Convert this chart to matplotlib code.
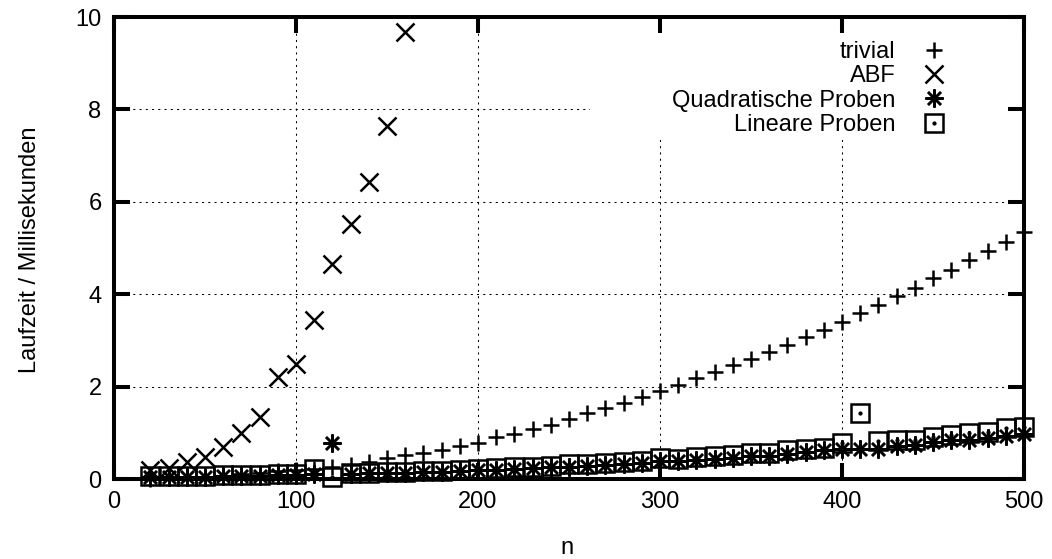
import matplotlib
matplotlib.use("Agg")
import matplotlib.pyplot as plt
from matplotlib.patches import Rectangle
from matplotlib.legend_handler import HandlerTuple

plt.rcParams['font.family'] = ['Liberation Sans', 'DejaVu Sans']

# ---- data ----
n_values = list(range(20, 501, 10))

trivial = [0.01, 0.02, 0.03, 0.05, 0.07, 0.10, 0.13, 0.17, 0.20, 0.22,
           0.25, 0.30, 0.37, 0.45, 0.52, 0.56, 0.63, 0.71, 0.79, 0.90,
           0.97, 1.08, 1.17, 1.30, 1.42, 1.54, 1.65, 1.77, 1.90, 2.03,
           2.18, 2.32, 2.47, 2.60, 2.75, 2.90, 3.07, 3.22, 3.40, 3.59,
           3.77, 3.96, 4.13, 4.35, 4.52, 4.74, 4.94, 5.13, 5.35]

abf_n = [20, 30, 40, 50, 60, 70, 80, 90, 100, 110, 120, 130, 140, 150, 160]
abf = [0.20, 0.23, 0.36, 0.48, 0.70, 1.00, 1.35, 2.20, 2.50, 3.45,
       4.65, 5.53, 6.42, 7.63, 9.67]

quadratisch = [0.04, 0.04, 0.05, 0.05, 0.06, 0.06, 0.07, 0.08, 0.09, 0.10,
               0.77, 0.11, 0.12, 0.13, 0.14, 0.15, 0.16, 0.17, 0.19, 0.20,
               0.22, 0.23, 0.25, 0.27, 0.28, 0.30, 0.32, 0.34, 0.38, 0.38,
               0.41, 0.43, 0.45, 0.50, 0.50, 0.54, 0.58, 0.62, 0.65, 0.66,
               0.66, 0.71, 0.73, 0.80, 0.84, 0.85, 0.89, 0.92, 0.97]

linear = [0.06, 0.06, 0.07, 0.07, 0.08, 0.08, 0.09, 0.10, 0.11, 0.22,
          0.04, 0.13, 0.14, 0.15, 0.16, 0.17, 0.18, 0.20, 0.22, 0.23,
          0.25, 0.27, 0.29, 0.32, 0.33, 0.35, 0.37, 0.40, 0.45, 0.44,
          0.48, 0.50, 0.51, 0.56, 0.57, 0.63, 0.65, 0.68, 0.77, 1.43,
          0.82, 0.84, 0.85, 0.91, 0.95, 0.99, 1.02, 1.10, 1.13]

labels = ["trivial", "ABF", "Quadratische Proben", "Lineare Proben"]
x_ticks = [0, 100, 200, 300, 400, 500]
y_ticks = [0, 2, 4, 6, 8, 10]

W, H = 1052, 559
fig = plt.figure(figsize=(W / 100, H / 100), dpi=100)
ax = fig.add_axes([114 / W, 1 - 479 / H, 910 / W, 462 / H])
ax.set_xlim(0, 500)
ax.set_ylim(0, 10)
ax.set_xticks(x_ticks)
ax.set_yticks(y_ticks)

FS = 17
ax.tick_params(direction='in', length=11.5, width=2.9, top=True, right=True,
               labelsize=FS, pad=9, color='black')
for s in ax.spines.values():
    s.set_linewidth(2.9)
    s.set_zorder(4)

# dotted grid
grid_kw = dict(color='black', lw=0.75, ls=(0, (2, 4)), zorder=0.5)
for yv in y_ticks[1:-1]:
    ax.axhline(yv, **grid_kw)
for xv in x_ticks[1:-1]:
    ax.axvline(xv, **grid_kw)

# white key box hiding the grid
ax.add_patch(Rectangle((0.523, 0.734), 0.477, 0.266, transform=ax.transAxes,
                       facecolor='white', edgecolor='none', zorder=1))

mk = dict(ls='none', color='black', mew=1.8, clip_on=False, zorder=3)
h1, = ax.plot(n_values, trivial, marker='+', ms=11.5, **mk)
h2, = ax.plot(abf_n, abf, marker='x', ms=12.5, **mk)
h3, = ax.plot(n_values, quadratisch, marker=(8, 2, 0), ms=13, **mk)
h4, = ax.plot(n_values, linear, marker='s', ms=12.5, mfc='none', **mk)
h4d, = ax.plot(n_values, linear, marker='.', ms=2.5, **mk)

ax.set_xlabel("n", fontsize=FS)
ax.set_ylabel("Laufzeit / Millisekunden", fontsize=FS)
ax.xaxis.set_label_coords((567 - 114) / 910, -(548 - 479) / 462)
ax.yaxis.set_label_coords(-(114 - 30) / 910, (479 - 250) / 462)
ax.xaxis.label.set_verticalalignment('center')
ax.yaxis.label.set_verticalalignment('center')

leg = ax.legend([h1, h2, h3, (h4, h4d)], labels, loc='upper right',
                bbox_to_anchor=(946 / W, 1 - 41 / H), bbox_transform=fig.transFigure,
                markerfirst=False, frameon=False, handlelength=1.0,
                handletextpad=1.15, labelspacing=0.1, borderpad=0,
                borderaxespad=0, fontsize=FS,
                handler_map={tuple: HandlerTuple(ndivide=1)})
leg.set_zorder(5)

fig.savefig("out.png", dpi=100)
